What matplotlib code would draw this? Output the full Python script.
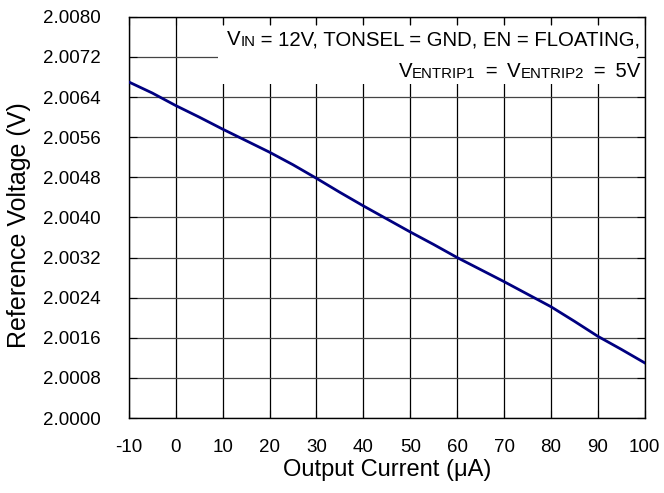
import matplotlib.pyplot as plt
from matplotlib.patches import Rectangle

plt.rcParams['font.family'] = ['Liberation Sans', 'DejaVu Sans']

# output current (uA) vs reference voltage (V)
current = [-10, -5, 0, 5, 10, 15, 20, 25, 30, 35, 40, 45, 50,
           55, 60, 65, 70, 75, 80, 85, 90, 95, 100]
vref = [2.00670, 2.00648, 2.00623, 2.00600, 2.00576, 2.00553, 2.00530,
        2.00505, 2.00478, 2.00450, 2.00423, 2.00397, 2.00371, 2.00346,
        2.00320, 2.00296, 2.00272, 2.00247, 2.00222, 2.00193, 2.00163,
        2.00137, 2.00110]

xticks = list(range(-10, 101, 10))
yticks = [2.0000, 2.0008, 2.0016, 2.0024, 2.0032, 2.0040,
          2.0048, 2.0056, 2.0064, 2.0072, 2.0080]

fig = plt.figure(figsize=(6.64, 4.93), dpi=100)
ax = fig.add_axes([0.194, 0.152, 0.777, 0.814])

for x in xticks:
    ax.axvline(x, color='black', lw=0.9, zorder=1)
for y in yticks:
    ax.axhline(y, color='#444444', lw=0.9, zorder=1)

# white box behind the conditions text
ax.add_patch(Rectangle((9.0, 2.00666), 89.8, 0.00117, facecolor='white',
                       edgecolor='none', zorder=1.2))

ax.plot(current, vref, color='#000080', lw=2, zorder=3)

ax.set_xlim(-10, 100)
ax.set_ylim(2.0000, 2.0080)
ax.set_xticks(xticks)
ax.set_xticklabels([str(v) for v in xticks])
ax.set_yticks(yticks)
ax.set_yticklabels([f'{v:.4f}' for v in yticks])
ax.tick_params(direction='in', top=True, right=True, length=6, width=0.8,
               labelsize=13.5)
ax.tick_params(axis='x', pad=15)
ax.tick_params(axis='y', pad=20)
for s in ax.spines.values():
    s.set_linewidth(1.0)
ax.set_xlabel('Output Current (\u03bcA)', fontsize=17, labelpad=2)
ax.set_ylabel('Reference Voltage (V)', fontsize=18)
ax.yaxis.set_label_coords(-0.19, 0.482)

# conditions text: pieces chained so subscripts sit on the baseline
big, small = 14.7, 10.8


def chain_right(pieces, x, y):
    # pieces laid out right to left, ending at (x, y) in axes coords
    prev = None
    for txt, fs in reversed(pieces):
        if prev is None:
            prev = ax.text(x, y, txt, fontsize=fs, transform=ax.transAxes,
                           ha='right', va='baseline', zorder=4)
        else:
            prev = ax.annotate(txt, xy=(0, 0), xycoords=prev, fontsize=fs,
                               ha='right', va='bottom', zorder=4)


eq = ' \u2009=\u2009 '
chain_right([('V', big), ('IN', small),
             (' = 12V, TONSEL = GND, EN = FLOATING,', big)], 0.992, 0.929)
chain_right([('V', big), ('ENTRIP1', small), (eq, big), ('V', big),
             ('ENTRIP2', small), (eq + '5V', big)], 0.992, 0.850)

fig.savefig('out.png', dpi=100)
